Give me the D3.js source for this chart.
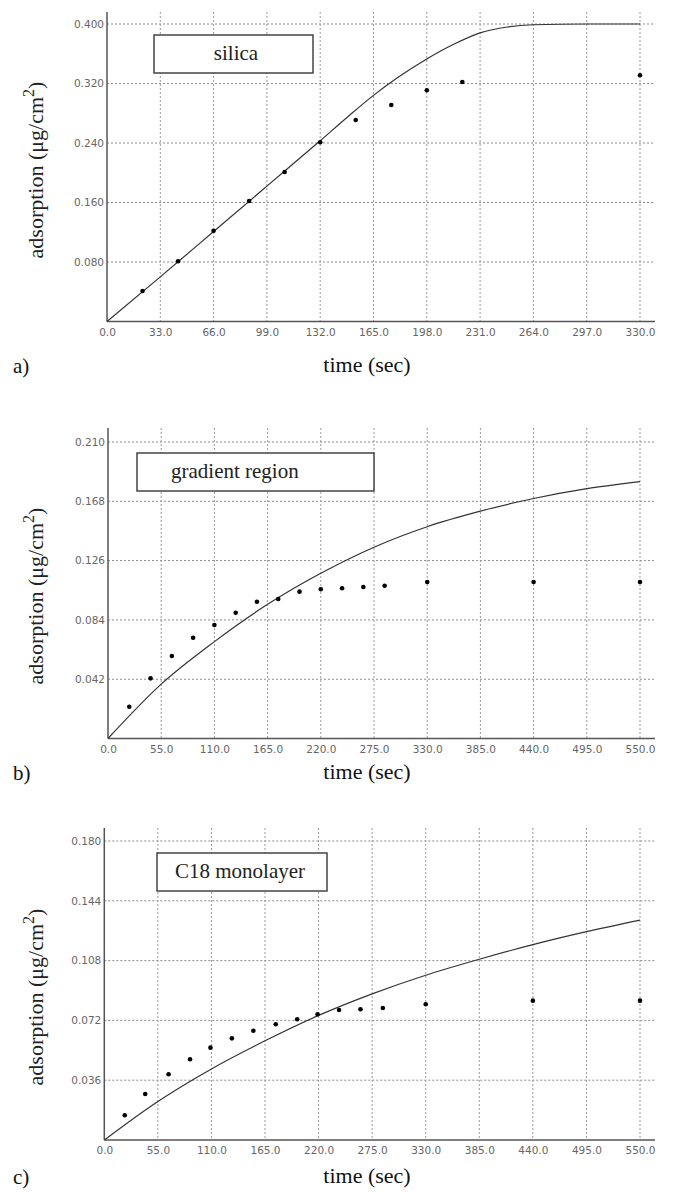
<!DOCTYPE html>
<html><head><meta charset="utf-8">
<script src="https://cdn.jsdelivr.net/npm/d3@7"></script>
<style>
body{margin:0;background:#fff;}
svg{display:block;}
.serif{font-family:'Liberation Serif','Times New Roman',serif;}
</style></head>
<body>
<svg id="chart" width="676" height="1192"></svg>
<script>
// ---------- DATA ----------
// Panel a) silica
const aTicksX = [0, 33, 66, 99, 132, 165, 198, 231, 264, 297, 330];
const aTicksY = [0.080, 0.160, 0.240, 0.320, 0.400];
const aPointT = [22, 44, 66, 88, 110, 132, 154, 176, 198, 220, 330];
const aPointV = [0.041, 0.081, 0.122, 0.162, 0.201, 0.241, 0.271, 0.291, 0.311, 0.322, 0.331];
const aLineT = [0, 33, 66, 99, 132, 150, 165, 180, 198, 215, 231, 248, 264, 297, 330];
const aLineV = [0, 0.060, 0.121, 0.182, 0.243, 0.277, 0.304, 0.328, 0.353, 0.373, 0.388, 0.396, 0.399, 0.400, 0.400];

// Panel b) gradient region
const bTicksX = [0, 55, 110, 165, 220, 275, 330, 385, 440, 495, 550];
const bTicksY = [0.042, 0.084, 0.126, 0.168, 0.210];
const bPointT = [22, 44, 66, 88, 110, 132, 154, 176, 198, 220, 242, 264, 286, 330, 440, 550];
const bPointV = [0.0225, 0.0426, 0.0584, 0.0714, 0.0804, 0.0891, 0.0969, 0.0988, 0.104, 0.1057, 0.1064, 0.1073, 0.1082, 0.1108, 0.1108, 0.1108];
const bLineT = [0, 55, 110, 165, 220, 275, 330, 385, 440, 495, 550];
const bLineV = [0, 0.0385, 0.0686, 0.0950, 0.1170, 0.1355, 0.1500, 0.1610, 0.1700, 0.1770, 0.1820];

// Panel c) C18 monolayer
const cTicksX = [0, 55, 110, 165, 220, 275, 330, 385, 440, 495, 550];
const cTicksY = [0.036, 0.072, 0.108, 0.144, 0.180];
const cPointT = [21, 42, 66, 88, 109, 131, 153, 176, 198, 219, 241, 263, 286, 330, 440, 550];
const cPointV = [0.0149, 0.0277, 0.0396, 0.0486, 0.0556, 0.0612, 0.0658, 0.0697, 0.0727, 0.0757, 0.0783, 0.0787, 0.0795, 0.0817, 0.0839, 0.0839];
const cLineT = [0, 55, 110, 165, 220, 275, 330, 385, 440, 495, 550];
const cLineV = [0, 0.0232, 0.0428, 0.0597, 0.0750, 0.0880, 0.0992, 0.1088, 0.1176, 0.1254, 0.1324];

const legendLabels = ["silica", "gradient region", "C18 monolayer"];
const panelLetters = ["a)", "b)", "c)"];
const xTitle = "time (sec)";

// ---------- LAYOUT ----------
const panels = [
  {ticksX:aTicksX, ticksY:aTicksY, pT:aPointT, pV:aPointV, lT:aLineT, lV:aLineV,
   xMax:330, yMax:0.400, x0:107, x1:640, y0:321.5, y1:24, top:12,
   box:[154,35,159,38], textX:236, textAnchor:"middle", label:legendLabels[0], letter:panelLetters[0],
   titleY:366, ylabY:170, ylabX:36},
  {ticksX:bTicksX, ticksY:bTicksY, pT:bPointT, pV:bPointV, lT:bLineT, lV:bLineV,
   xMax:550, yMax:0.210, x0:108, x1:640, y0:738.5, y1:442, top:428,
   box:[137,453,237,38], textX:171, textAnchor:"start", label:legendLabels[1], letter:panelLetters[1],
   titleY:773, ylabY:596, ylabX:36},
  {ticksX:cTicksX, ticksY:cTicksY, pT:cPointT, pV:cPointV, lT:cLineT, lV:cLineV,
   xMax:550, yMax:0.180, x0:104.3, x1:640, y0:1140, y1:841, top:828,
   box:[157,853,170,38], textX:240, textAnchor:"middle", label:legendLabels[2], letter:panelLetters[2],
   titleY:1177, ylabY:997, ylabX:36}
];

const svg = d3.select("#chart");
const serifF = "Liberation Serif";
const sans = "'DejaVu Sans','Liberation Sans',sans-serif";

panels.forEach(p => {
  const x = d3.scaleLinear().domain([0, p.xMax]).range([p.x0, p.x1]);
  const y = d3.scaleLinear().domain([0, p.yMax]).range([p.y0, p.y1]);
  const g = svg.append("g");
  const right = 655;

  // grid
  g.selectAll(".hg").data(p.ticksY).enter().append("line")
    .attr("x1", p.x0).attr("x2", right)
    .attr("y1", d => y(d)).attr("y2", d => y(d))
    .attr("stroke", "#8a8a8a").attr("stroke-width", 1).attr("stroke-dasharray", "2,2");
  g.selectAll(".vg").data(p.ticksX.slice(1)).enter().append("line")
    .attr("x1", d => x(d)).attr("x2", d => x(d))
    .attr("y1", p.top).attr("y2", p.y0)
    .attr("stroke", "#9a9a9a").attr("stroke-width", 1).attr("stroke-dasharray", "2,2");

  // axes
  const xAxis = d3.axisBottom(x).tickValues(p.ticksX).tickSize(0).tickPadding(7)
    .tickFormat(d3.format(".1f"));
  const gx = g.append("g").attr("transform", `translate(0,${p.y0})`).call(xAxis);
  gx.select(".domain").remove();
  gx.selectAll("text").attr("fill", "#666").style("font-family", sans).style("font-size", "10.5px");

  const yAxis = d3.axisLeft(y).tickValues(p.ticksY).tickSize(0).tickPadding(3)
    .tickFormat(d3.format(".3f"));
  const gy = g.append("g").attr("transform", `translate(${p.x0},0)`).call(yAxis);
  gy.select(".domain").remove();
  gy.selectAll("text").attr("fill", "#666").style("font-family", sans).style("font-size", "10.5px");

  g.append("line").attr("x1", p.x0).attr("x2", p.x0).attr("y1", p.top).attr("y2", p.y0)
    .attr("stroke", "#555").attr("stroke-width", 1.5);
  g.append("line").attr("x1", p.x0).attr("x2", right).attr("y1", p.y0).attr("y2", p.y0)
    .attr("stroke", "#555").attr("stroke-width", 1.5);

  // model line
  const lineData = p.lT.map((t, i) => [t, p.lV[i]]);
  g.append("path").datum(lineData)
    .attr("fill", "none").attr("stroke", "#333").attr("stroke-width", 1.2)
    .attr("d", d3.line().x(d => x(d[0])).y(d => y(d[1])).curve(d3.curveMonotoneX));

  // points
  const ptData = p.pT.map((t, i) => [t, p.pV[i]]);
  g.selectAll(".pt").data(ptData).enter().append("circle")
    .attr("cx", d => x(d[0])).attr("cy", d => y(d[1])).attr("r", 2.3).attr("fill", "#000");

  // legend box
  g.append("rect").attr("x", p.box[0]).attr("y", p.box[1]).attr("width", p.box[2]).attr("height", p.box[3])
    .attr("fill", "#fff").attr("stroke", "#444").attr("stroke-width", 1.5);
  g.append("text").attr("class", "serif").attr("font-family", serifF)
    .attr("x", p.textX).attr("y", p.box[1] + p.box[3] / 2 + 6)
    .attr("text-anchor", p.textAnchor).attr("font-size", 21)
    .attr("fill", "#222").text(p.label);

  // titles
  g.append("text").attr("class", "serif").attr("font-family", serifF)
    .attr("x", 367).attr("y", p.titleY + 6).attr("text-anchor", "middle")
    .attr("font-size", 22).attr("fill", "#111").text(xTitle);
  g.append("text").attr("class", "serif").attr("font-family", serifF)
    .attr("x", 13).attr("y", p.titleY + 7)
    .attr("font-size", 21).attr("fill", "#111").text(p.letter);

  const yl = g.append("text").attr("class", "serif").attr("font-family", serifF)
    .attr("transform", `translate(${p.ylabX + 7},${p.ylabY}) rotate(-90)`)
    .attr("text-anchor", "middle").attr("font-size", 22).attr("fill", "#222");
  yl.append("tspan").text("adsorption (\u03bcg/cm");
  yl.append("tspan").attr("dy", -9).attr("font-size", 16).text("2");
  yl.append("tspan").attr("dy", 9).text(")");
});
</script>
</body></html>
